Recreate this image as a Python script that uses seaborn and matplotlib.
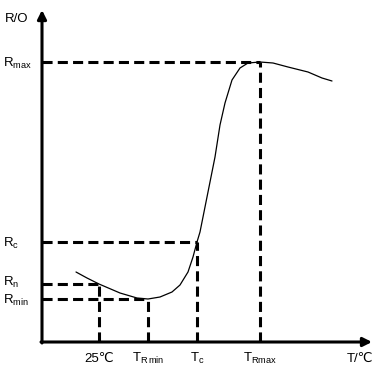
import matplotlib
matplotlib.use("Agg")
import matplotlib.pyplot as plt
import seaborn as sns
import pandas as pd

# Data (arbitrary units: temperature on x, resistance on y)
temps = [34, 45, 57, 78, 95, 106, 118, 130, 138, 146, 151, 155, 158, 161, 167,
         173, 178, 183, 190, 198, 206, 218, 231, 246, 266, 280, 290]
resist = [70, 64, 58, 49, 44, 43, 45, 50, 57, 70, 85, 100, 110, 125, 155,
          185, 217, 239, 262, 274, 279, 280, 279, 275, 270, 264, 261]

key_T = [57, 106, 155, 218]
key_R = [58, 43, 100, 280]
x_labels = ["25\u2103", r"T$_{\mathrm{R\,min}}$", r"T$_{\mathrm{c}}$", r"T$_{\mathrm{Rmax}}$"]
y_labels = [r"R$_{\mathrm{n}}$", r"R$_{\mathrm{min}}$", r"R$_{\mathrm{c}}$", r"R$_{\mathrm{max}}$"]
y_label_offset = [-2, -5, -5, -5]

sns.set_style("white")
plt.rcParams["font.family"] = ["Liberation Sans", "DejaVu Sans"]
plt.rcParams["mathtext.fontset"] = "custom"
plt.rcParams["mathtext.rm"] = "Liberation Sans"
plt.rcParams["mathtext.it"] = "Liberation Sans"
plt.rcParams["text.color"] = "black"

W, H = 378, 376
fig = plt.figure(figsize=(W / 100, H / 100), dpi=100)
ax = fig.add_axes([42 / W, 34 / H, 330 / W, 332 / H])
ax.set_xlim(0, 330)
ax.set_ylim(0, 332)
for s in ax.spines.values():
    s.set_visible(False)
ax.set_xticks([])
ax.set_yticks([])

df = pd.DataFrame({"T": temps, "R": resist})
sns.lineplot(data=df, x="T", y="R", color="black", lw=0.9, sort=False,
             estimator=None, ax=ax, legend=False)
ax.set_xlabel("")
ax.set_ylabel("")

dash = (0, (3.3, 1.7))
for t, r in zip(key_T, key_R):
    ax.plot([0, t], [r, r], color="black", lw=2.2, ls=dash, clip_on=False)
    ax.plot([t, t], [0, r], color="black", lw=2.2, ls=dash, clip_on=False)

# axes with arrows
arrow = dict(arrowstyle="-|>", lw=2.2, color="black", mutation_scale=13,
             shrinkA=0, shrinkB=0)
ax.annotate("", xy=(0, 332), xytext=(0, -1), arrowprops=arrow, annotation_clip=False)
ax.annotate("", xy=(330, 0), xytext=(-1, 0), arrowprops=arrow, annotation_clip=False)

fs = 9.5
for t, lab in zip(key_T, x_labels):
    ax.text(t, -20, lab, ha="center", va="baseline", fontsize=fs, color="black",
            clip_on=False)
for r, lab, off in zip(key_R, y_labels, y_label_offset):
    ax.text(-39, r + off, lab, ha="left", va="baseline", fontsize=fs, color="black",
            clip_on=False)

ax.text(-37, 320, "R/O", ha="left", va="baseline", fontsize=fs, color="black",
        clip_on=False)
ax.text(305, -20, "T/\u2103", ha="left", va="baseline", fontsize=fs, color="black",
        clip_on=False)

fig.savefig("out.png", dpi=100)
